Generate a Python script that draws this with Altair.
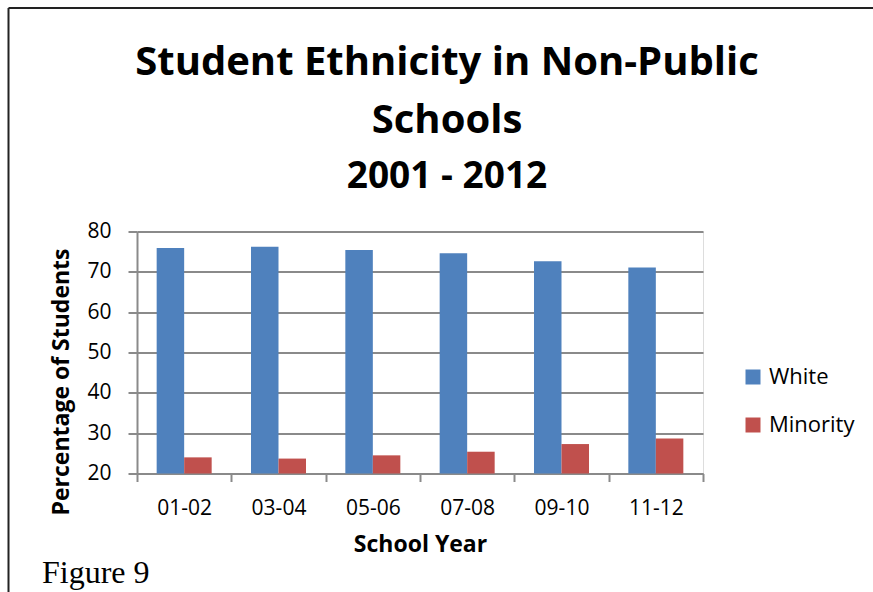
import altair as alt
import pandas as pd

years = ["01-02", "03-04", "05-06", "07-08", "09-10", "11-12"]
white = [75.9, 76.2, 75.4, 74.6, 72.6, 71.1]
minority = [24.0, 23.7, 24.5, 25.4, 27.3, 28.7]
groups = ["White", "Minority"]
colors = ["#4F81BD", "#C0504D"]
title_lines = ["Student Ethnicity in Non-Public", "Schools", "2001 - 2012"]
title_sizes = [40, 40, 37]
title_baselines = [75, 133, 188]

rows = []
for i, yr in enumerate(years):
    rows.append({"year": yr, "group": "White", "value": white[i]})
    rows.append({"year": yr, "group": "Minority", "value": minority[i]})
df = pd.DataFrame(rows)

W, H = 566, 242
LEFT, TOP = 137, 231.5
FONT = "Open Sans"
GRID = "#8a8a8a"

bars = alt.Chart(df).mark_bar().encode(
    x=alt.X("year:N", sort=years,
            scale=alt.Scale(paddingInner=0, paddingOuter=0),
            axis=alt.Axis(title="School Year", tickBand="extent", labelAngle=0,
                          labelFont=FONT, labelFontSize=21, labelColor="black",
                          labelBaseline="alphabetic", labelPadding=33,
                          tickSize=8, tickColor=GRID, tickWidth=2,
                          domainColor=GRID, domainWidth=2,
                          titleFont=FONT, titleFontSize=23, titleFontWeight="bold",
                          titleColor="black", titleBaseline="alphabetic",
                          titleY=77.5, titleX=W / 2)),
    xOffset=alt.XOffset("group:N", sort=groups,
                        scale=alt.Scale(paddingInner=0, paddingOuter=0.715)),
    y=alt.Y("value:Q",
            scale=alt.Scale(domain=[20, 80], zero=False, nice=False),
            axis=alt.Axis(title="Percentage of Students", values=[20, 30, 40, 50, 60, 70, 80],
                          labelFont=FONT, labelFontSize=21, labelColor="black",
                          labelPadding=17, tickSize=9, tickColor=GRID, tickWidth=2,
                          domainColor=GRID, domainWidth=2,
                          grid=True, gridColor=GRID, gridWidth=2,
                          titleFont=FONT, titleFontSize=23, titleFontWeight="bold",
                          titleColor="black", titleAngle=270, titleX=-76, titleY=150,
                          titleAlign="center", titleBaseline="middle")),
    y2=alt.datum(20),
    color=alt.Color("group:N", sort=groups,
                    scale=alt.Scale(domain=groups, range=colors),
                    legend=alt.Legend(title=None, orient="none",
                                      legendX=742 - LEFT, legendY=370 - TOP - 4,
                                      padding=0, symbolType="square", symbolSize=225,
                                      symbolStrokeWidth=0, labelFont=FONT,
                                      labelFontSize=22, labelColor="black",
                                      labelOffset=5, rowPadding=26)),
)

dummy = pd.DataFrame({"k": [0]})
border_top = alt.Chart(dummy).mark_rule(color="#222222", strokeWidth=2).encode(
    x=alt.value(8.5 - LEFT), x2=alt.value(873 - LEFT), y=alt.value(8 - TOP))
border_left = alt.Chart(dummy).mark_rule(color="#222222", strokeWidth=2).encode(
    x=alt.value(8.5 - LEFT), y=alt.value(8 - TOP), y2=alt.value(592 - TOP))
fig_text = alt.Chart(dummy).mark_text(font="Liberation Serif", fontSize=32,
                                      align="left", baseline="alphabetic",
                                      color="black").encode(
    x=alt.value(42 - LEFT), y=alt.value(583 - TOP), text=alt.value("Figure 9"))

title_layers = []
for txt, fs, bl in zip(title_lines, title_sizes, title_baselines):
    title_layers.append(
        alt.Chart(dummy).mark_text(font=FONT, fontSize=fs, fontWeight="bold",
                                   align="center", baseline="alphabetic",
                                   color="black").encode(
            x=alt.value(447 - LEFT), y=alt.value(bl - TOP), text=alt.value(txt))
    )

chart = alt.layer(bars, border_top, border_left, fig_text, *title_layers).properties(
    width=W, height=H,
    autosize=alt.AutoSizeParams(type="none"),
    padding={"left": LEFT, "top": TOP, "right": 873 - LEFT - W, "bottom": 592 - TOP - H},
).configure_view(stroke=None).configure(background="white")

chart.save("out.html", embed_options={"renderer": "svg", "actions": False})
